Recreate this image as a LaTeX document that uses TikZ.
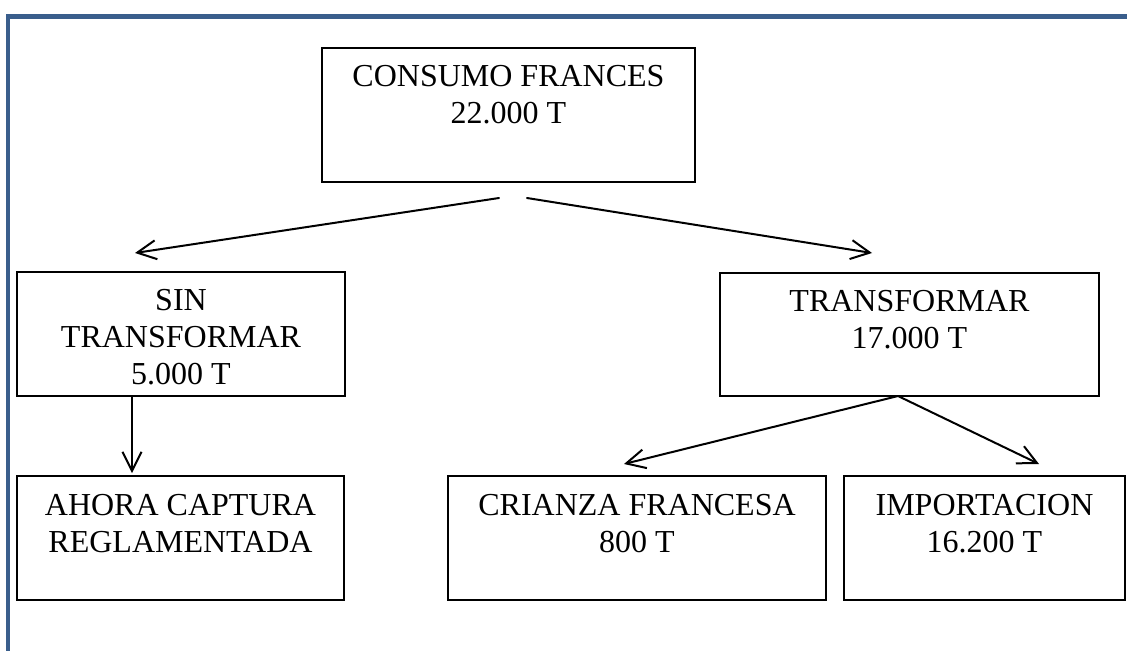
\documentclass[tikz,border=0pt]{standalone}
\usepackage{fontspec}
\setmainfont{Liberation Serif}
\usetikzlibrary{arrows.meta}
\definecolor{frameblue}{RGB}{58,94,140}
\begin{document}
\begin{tikzpicture}[x=1pt,y=-1pt,
  box/.style={draw=black,line width=1.3pt,inner sep=0pt},
  lbl/.style={align=center,inner sep=0pt,anchor=north,font=\fontsize{32}{37}\selectfont},
  arr/.style={line width=2pt,-{Straight Barb[length=19pt,width=19pt,line width=2pt]},line cap=round}]
\useasboundingbox (0,0) rectangle (1127,651);
% frame
\draw[frameblue,line width=5pt] (8,16.5) -- (1127,16.5);
\draw[frameblue,line width=4pt] (8,14) -- (8,651);
% boxes
\node[box,minimum width=373pt,minimum height=134pt] (cons) at (508.5,115) {};
\node[box,minimum width=328pt,minimum height=124pt] (sin) at (181,334) {};
\node[box,minimum width=379pt,minimum height=123pt] (trans) at (909.5,334.5) {};
\node[box,minimum width=327pt,minimum height=124pt] (ahora) at (180.5,538) {};
\node[box,minimum width=378pt,minimum height=124pt] (crianza) at (637,538) {};
\node[box,minimum width=281pt,minimum height=124pt] (import) at (984.5,538) {};
% labels
\node[lbl] (consT) at ([yshift=-17.5pt]cons.north) {CONSUMO FRANCES\\22.000 T};
\node[lbl] (sinT) at ([yshift=-18pt]sin.north) {SIN\\TRANSFORMAR\\5.000 T};
\node[lbl] (transT) at ([yshift=-17.5pt]trans.north) {TRANSFORMAR\\17.000 T};
\node[lbl] (ahoraT) at ([yshift=-19pt]ahora.north) {AHORA CAPTURA\\REGLAMENTADA};
\node[lbl] (crianzaT) at ([yshift=-19pt]crianza.north) {CRIANZA FRANCESA\\800 T};
\node[lbl] (importT) at ([yshift=-19pt]import.north) {IMPORTACION\\16.200 T};
% connector end points
\coordinate (c1) at (499,198);
\coordinate (c2) at (527,198);
\coordinate (t1) at (135,253);
\coordinate (t2) at (872,253);
\coordinate (s3) at (132,396);
\coordinate (t3) at (132,473);
\coordinate (s4) at (898,396);
\coordinate (t4) at (624,464);
\coordinate (t5) at (1039,464);
\draw[arr] (c1) -- (t1);
\draw[arr] (c2) -- (t2);
\draw[arr] (s3) -- (t3);
\draw[arr] (s4) -- (t4);
\draw[arr] (s4) -- (t5);
\end{tikzpicture}
\end{document}
